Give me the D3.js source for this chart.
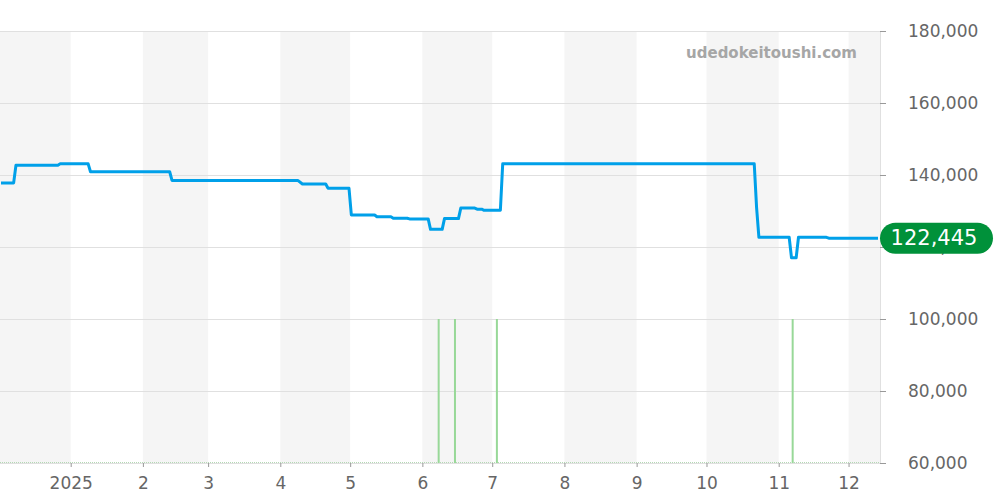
<!DOCTYPE html>
<html>
<head>
<meta charset="utf-8">
<script src="https://cdn.jsdelivr.net/npm/d3@7"></script>
<style>
  body { margin: 0; background: #fff; }
  svg { display: block; font-family: "DejaVu Sans", sans-serif; }
</style>
</head>
<body>
<svg id="chart" width="1000" height="500"></svg>
<script>
const w = 1000;
const h = 500;
const plot = { left: -1.5, right: 880, top: 31, bottom: 463 };

// price history (date, yen)
const priceDates = [
  "2024-12-01", "2024-12-07", "2024-12-08", "2024-12-26", "2024-12-27",
  "2025-01-08", "2025-01-09", "2025-02-12", "2025-02-13", "2025-04-08",
  "2025-04-10", "2025-04-20", "2025-04-21", "2025-04-30", "2025-05-01",
  "2025-05-11", "2025-05-12", "2025-05-18", "2025-05-19", "2025-05-25",
  "2025-05-26", "2025-06-03", "2025-06-04", "2025-06-09", "2025-06-10",
  "2025-06-16", "2025-06-17", "2025-06-23", "2025-06-24", "2025-06-26",
  "2025-06-27", "2025-07-04", "2025-07-05", "2025-10-21", "2025-10-22",
  "2025-10-23", "2025-11-05", "2025-11-06", "2025-11-08", "2025-11-09",
  "2025-11-21", "2025-11-22", "2025-12-14"
];
const priceValues = [
  137800, 137800, 142700, 142700, 143100,
  143100, 140900, 140900, 138500, 138500,
  137500, 137500, 136300, 136300, 128900,
  128900, 128400, 128400, 128000, 128000,
  127800, 127800, 124900, 124900, 127900,
  127900, 130800, 130800, 130500, 130500,
  130200, 130200, 143100, 143100, 131000,
  122700, 122700, 117000, 117000, 122700,
  122700, 122445, 122445
];

// sales volume
const volumeDates = ["2025-06-08", "2025-06-15", "2025-07-03", "2025-11-07"];
const volumeValues = [1, 1, 1, 1];

const yTicks = [60000, 80000, 100000, 120000, 140000, 160000, 180000];
const monthTicks = ["2025-01-01", "2025-02-01", "2025-03-01", "2025-04-01", "2025-05-01", "2025-06-01",
  "2025-07-01", "2025-08-01", "2025-09-01", "2025-10-01", "2025-11-01", "2025-12-01"];
const monthLabels = ["2025", "2", "3", "4", "5", "6", "7", "8", "9", "10", "11", "12"];
const lastLabel = "122,445";
const watermark = "udedokeitoushi.com";

const parse = d3.timeParse("%Y-%m-%d");
const noon = s => d3.timeHour.offset(parse(s), 12);
const fmt = d3.format(",");

const start = parse("2024-12-01");
const end = noon("2025-12-14");
const x = d3.scaleTime().domain([start, end]).range([plot.left, plot.right]);
const y = d3.scaleLinear().domain([60000, 180000]).range([plot.bottom, plot.top]);
const yv = d3.scaleLinear().domain([0, 3]).range([plot.bottom, plot.top]);

const svg = d3.select("#chart");

// alternating month bands
const months = d3.timeMonth.range(start, end);
svg.append("g").selectAll("rect")
  .data(months.filter((m, i) => i % 2 === 0))
  .join("rect")
  .attr("x", d => Math.max(x(d), 0))
  .attr("y", plot.top)
  .attr("width", d => Math.min(x(d3.timeMonth.offset(d, 1)), plot.right) - Math.max(x(d), 0))
  .attr("height", plot.bottom - plot.top)
  .attr("fill", "#f5f5f5");

// gridlines
svg.append("g").selectAll("line")
  .data(yTicks)
  .join("line")
  .attr("x1", 0).attr("x2", plot.right)
  .attr("y1", d => y(d) + 0.5).attr("y2", d => y(d) + 0.5)
  .attr("stroke", "#e0e0e0");

// right axis line
svg.append("line")
  .attr("x1", plot.right + 0.5).attr("x2", plot.right + 0.5)
  .attr("y1", plot.top).attr("y2", plot.bottom)
  .attr("stroke", "#e0e0e0");

// volume baseline (dotted)
svg.append("line")
  .attr("x1", 0).attr("x2", plot.right)
  .attr("y1", plot.bottom - 0.5).attr("y2", plot.bottom - 0.5)
  .attr("stroke", "#b4d8b4")
  .attr("stroke-dasharray", "1,1");

// volume bars
svg.append("g").selectAll("rect")
  .data(volumeDates.map((d, i) => ({ date: parse(d), v: volumeValues[i] })))
  .join("rect")
  .attr("x", d => x(d.date) - 1)
  .attr("width", 2)
  .attr("y", d => yv(d.v))
  .attr("height", d => plot.bottom - yv(d.v))
  .attr("fill", "#98d898");

// price line
const priceData = priceDates.map((d, i) => ({ date: noon(d), v: priceValues[i] }));
svg.append("path")
  .datum(priceData)
  .attr("fill", "none")
  .attr("stroke", "#00a0e9")
  .attr("stroke-width", 3)
  .attr("stroke-linejoin", "round")
  .attr("d", d3.line().x(d => Math.max(1, Math.min(x(d.date), plot.right - 2))).y(d => y(d.v)));

// y axis (right)
const yAxis = svg.append("g")
  .attr("transform", `translate(${plot.right},0)`)
  .call(d3.axisRight(y).tickValues(yTicks).tickFormat(fmt).tickSize(6).tickPadding(22));
yAxis.select(".domain").remove();
yAxis.selectAll(".tick line").attr("stroke", "#999");
yAxis.selectAll(".tick text")
  .attr("fill", "#666")
  .style("font-size", "17px")
  .style("font-family", "DejaVu Sans");

// x axis
const xAxis = svg.append("g")
  .attr("transform", `translate(0,${plot.bottom})`)
  .call(d3.axisBottom(x).tickValues(monthTicks.map(parse))
    .tickFormat((d, i) => monthLabels[i]).tickSize(4).tickPadding(10));
xAxis.select(".domain").remove();
xAxis.selectAll(".tick line").attr("stroke", "#999");
xAxis.selectAll(".tick text")
  .attr("fill", "#666")
  .style("font-size", "17px")
  .style("font-family", "DejaVu Sans");

// watermark
svg.append("text")
  .attr("x", 857).attr("y", 58)
  .attr("text-anchor", "end")
  .attr("fill", "#a6a6a6")
  .style("font-size", "15px")
  .style("font-weight", "bold")
  .text(watermark);

// last price badge
const last = priceData[priceData.length - 1];
const badge = svg.append("g").attr("transform", `translate(${plot.right},${y(last.v)})`);
badge.append("rect")
  .attr("x", 0).attr("y", -15.5)
  .attr("width", 113).attr("height", 31)
  .attr("rx", 15.5)
  .attr("fill", "#00913a");
badge.append("text")
  .attr("x", 54).attr("y", 1)
  .attr("text-anchor", "middle")
  .attr("dominant-baseline", "middle")
  .attr("fill", "#fff")
  .style("font-size", "21px")
  .text(lastLabel);
</script>
</body>
</html>
